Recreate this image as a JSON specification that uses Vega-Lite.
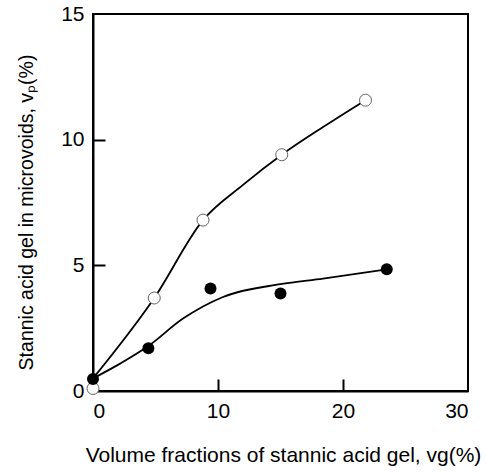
{
  "$schema": "https://vega.github.io/schema/vega-lite/v6.json",
  "width": 375,
  "height": 377,
  "autosize": "none",
  "padding": {"left": 93, "top": 14, "right": 18, "bottom": 82},
  "config": {
    "view": {"stroke": "black", "strokeWidth": 2},
    "font": "Liberation Sans",
    "axis": {
      "grid": false,
      "domainColor": "black",
      "domainWidth": 2,
      "tickColor": "black",
      "tickWidth": 2,
      "labelColor": "black",
      "titleColor": "black",
      "labelFont": "Liberation Sans",
      "titleFont": "Liberation Sans",
      "labelFontSize": 21,
      "titleFontWeight": "normal"
    }
  },
  "datasets": {
    "pts": [
      {"series": "open", "x": 0, "y": 0.1},
      {"series": "open", "x": 4.9, "y": 3.7},
      {"series": "open", "x": 8.8, "y": 6.8},
      {"series": "open", "x": 15.1, "y": 9.4},
      {"series": "open", "x": 21.8, "y": 11.57},
      {"series": "filled", "x": 0, "y": 0.48},
      {"series": "filled", "x": 4.43, "y": 1.7},
      {"series": "filled", "x": 9.4, "y": 4.08},
      {"series": "filled", "x": 15.0, "y": 3.88},
      {"series": "filled", "x": 23.5, "y": 4.84}
    ],
    "curves": [
      {"series": "open", "x": 0, "y": 0.5},
      {"series": "open", "x": 4.9, "y": 3.7},
      {"series": "open", "x": 8.8, "y": 6.8},
      {"series": "open", "x": 12.0, "y": 8.2},
      {"series": "open", "x": 15.1, "y": 9.4},
      {"series": "open", "x": 18.4, "y": 10.5},
      {"series": "open", "x": 21.8, "y": 11.57},
      {"series": "filled", "x": 0, "y": 0.5},
      {"series": "filled", "x": 2.2, "y": 1.1},
      {"series": "filled", "x": 4.4, "y": 1.78},
      {"series": "filled", "x": 7.2, "y": 2.88},
      {"series": "filled", "x": 10.4, "y": 3.74},
      {"series": "filled", "x": 15.0, "y": 4.25},
      {"series": "filled", "x": 18.4, "y": 4.47},
      {"series": "filled", "x": 23.5, "y": 4.84}
    ]
  },
  "encoding": {
    "x": {
      "field": "x", "type": "quantitative",
      "scale": {"domain": [0, 30], "nice": false},
      "axis": {
        "values": [0, 10, 20, 30],
        "tickSize": -12,
        "labelPadding": 21,
        "tickOpacity": {"condition": {"test": "datum.value == 0 || datum.value == 30", "value": 0}, "value": 1},
        "title": "Volume fractions of stannic acid gel, vg(%)",
        "titleFontSize": 21,
        "titleX": 190,
        "titleY": 64,
        "titleBaseline": "middle"
      }
    },
    "y": {
      "field": "y", "type": "quantitative",
      "scale": {"domain": [0, 15], "nice": false},
      "axis": {
        "values": [0, 5, 10, 15],
        "tickSize": -12,
        "labelPadding": 21,
        "tickOpacity": {"condition": {"test": "datum.value == 0 || datum.value == 15", "value": 0}, "value": 1},
        "title": "Stannic acid gel in microvoids, vₚ(%)",
        "titleFontSize": 19.5,
        "titleX": -67,
        "titleY": 198,
        "titleBaseline": "middle"
      }
    }
  },
  "layer": [
    {
      "data": {"name": "curves"},
      "mark": {"type": "line", "interpolate": "monotone", "color": "black", "strokeWidth": 1.8},
      "encoding": {"detail": {"field": "series"}}
    },
    {
      "data": {"name": "pts"},
      "transform": [{"filter": "datum.series == 'open'"}],
      "mark": {"type": "point", "shape": "circle", "filled": true, "fill": "white", "stroke": "#666", "strokeWidth": 1, "size": 144, "opacity": 1}
    },
    {
      "data": {"name": "pts"},
      "transform": [{"filter": "datum.series == 'filled'"}],
      "mark": {"type": "point", "shape": "circle", "filled": true, "color": "black", "size": 144, "opacity": 1}
    }
  ]
}
